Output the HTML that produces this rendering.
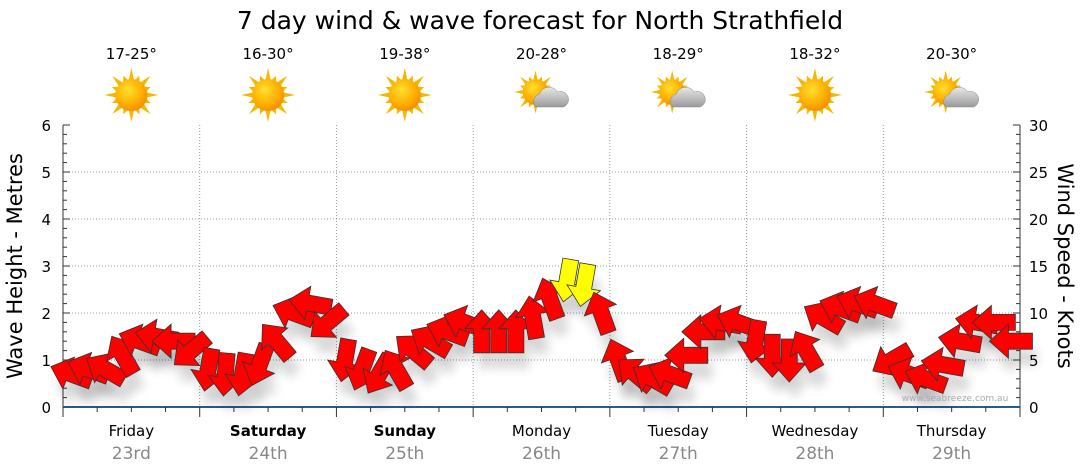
<!DOCTYPE html>
<html><head><meta charset="utf-8"><style>
body{margin:0;background:#fff;font-family:"DejaVu Sans","Liberation Sans",sans-serif}
svg{display:block}
</style></head><body>
<svg id="c" width="1080" height="475" xmlns="http://www.w3.org/2000/svg">
<defs>
<radialGradient id="sg" cx="0.4" cy="0.35" r="0.7"><stop offset="0" stop-color="#ffe030"/><stop offset="0.6" stop-color="#ffb000"/><stop offset="1" stop-color="#f08a00"/></radialGradient>
<linearGradient id="cg" x1="0" y1="0" x2="0" y2="1"><stop offset="0" stop-color="#e8e8e8"/><stop offset="1" stop-color="#9a9a9a"/></linearGradient>
<filter id="sh" x="-50%" y="-50%" width="200%" height="200%"><feGaussianBlur stdDeviation="5"/></filter>
</defs>
<text x="540" y="29" text-anchor="middle" font-size="25" fill="#000">7 day wind &amp; wave forecast for North Strathfield</text>
<g id="grid"></g>
<g id="hdr"></g>
<g id="axes"></g>
<g id="arrows"></g>
<text x="955" y="401" text-anchor="middle" font-size="9" fill="#aaa">www.seabreeze.com.au</text>
<text transform="translate(22,266) rotate(-90)" text-anchor="middle" font-size="21">Wave Height - Metres</text>
<text transform="translate(1058,266) rotate(90)" text-anchor="middle" font-size="21">Wind Speed - Knots</text>
</svg>
<script>
const days=["Friday","Saturday","Sunday","Monday","Tuesday","Wednesday","Thursday"];
const dates=["23rd","24th","25th","26th","27th","28th","29th"];
const temps=["17-25°","16-30°","19-38°","20-28°","18-29°","18-32°","20-30°"];
const cloudy=[0,0,0,1,1,0,1];
const boldDays=[0,1,1,0,0,0,0];
const waveTicks=[0,1,2,3,4,5,6];
const windTicks=[0,5,10,15,20,25,30];
const windSpeed=[3.5,4,4,5.5,7,7.5,7,6, 4,3.5,3.5,4.5,7,10,11,9, 5,4,3.5,4,6,7,8,9, 8,8,8,9.5,11.5,13.5,13,10, 5,3.5,3,3.5,5.5,8,9,9, 7,5.5,5,6,9.5,10.5,11,11, 5,3.5,3,4.5,7,9,9,7];
const windDir=[200,200,210,240,200,190,180,140, 100,95,100,110,230,200,190,140, 100,110,120,240,220,210,200,200, 270,270,270,260,250,100,100,250, 250,220,210,200,180,180,190,200, 100,90,90,240,210,200,200,200, 150,200,200,190,190,190,180,180];
const X0=63,X1=1020,Y0=407,Y1=125;
const dayW=(X1-X0)/7;
const xHour=h=>X0+h/168*(X1-X0);
const yWave=m=>Y0-m/6*(Y0-Y1);
const yWind=k=>Y0-k/30*(Y0-Y1);
const NS="http://www.w3.org/2000/svg";
function mk(p,t,a){const e=document.createElementNS(NS,t);for(const k in a)e.setAttribute(k,a[k]);p.appendChild(e);return e;}
const G=document.getElementById('grid'),H=document.getElementById('hdr'),A=document.getElementById('axes'),R=document.getElementById('arrows');
waveTicks.forEach(m=>{if(m>0&&m<6){const l=mk(G,'line',{x1:X0,x2:X1,y1:yWave(m),y2:yWave(m),stroke:'#999','stroke-dasharray':'1,2'});

}
const t=mk(A,'text',{x:X0-12,y:yWave(m)+6,'text-anchor':'end','font-size':15});t.textContent=m;

});
windTicks.forEach(k=>{const t=mk(A,'text',{x:X1+9,y:yWind(k)+6,'font-size':15});t.textContent=k;

});
for(let i=0;i<=30;i++){const y=Y1+i*(Y0-Y1)/30;const w=i%5==0?7:4;
mk(A,'line',{x1:X0,x2:X0+w,y1:y,y2:y,stroke:'#333'});mk(A,'line',{x1:X1-w,x2:X1,y1:y,y2:y,stroke:'#333'});}
mk(A,'line',{x1:X0,x2:X0,y1:Y1,y2:Y0,stroke:'#333'});
mk(A,'line',{x1:X1,x2:X1,y1:Y1,y2:Y0,stroke:'#333'});
const bl=mk(A,'line',{x1:X0,x2:X1,y1:Y0,y2:Y0,stroke:'#2a5a8a','stroke-width':2});


for(let h=0;h<=168;h+=6){mk(A,'line',{x1:xHour(h),x2:xHour(h),y1:Y0,y2:Y0+(h%24==0?10:5),stroke:'#333'});}
days.forEach((d,i)=>{const cx=X0+dayW*(i+0.5);
if(i>0){const l=mk(G,'line',{x1:X0+dayW*i,x2:X0+dayW*i,y1:Y1,y2:Y0,stroke:'#999','stroke-dasharray':'1,2'});

}
const t=mk(A,'text',{x:cx,y:436,'text-anchor':'middle','font-size':15,'font-weight':boldDays[i]?'bold':'normal'});t.textContent=d;


const t2=mk(A,'text',{x:cx,y:459,'text-anchor':'middle','font-size':17,fill:'#888'});t2.textContent=dates[i];


const t3=mk(H,'text',{x:cx,y:59,'text-anchor':'middle','font-size':15});t3.textContent=temps[i];


const g=mk(H,'g',{transform:`translate(${cx},95)`});


const sx=cloudy[i]?-6:0,sy=cloudy[i]?-3:0,sc=cloudy[i]?0.8:1;
const sg=mk(g,'g',{transform:`translate(${sx},${sy}) scale(${sc})`});
for(let r=0;r<16;r++){const a=r*Math.PI/8,L=r%2==0?27:21;
mk(sg,'polygon',{points:`${Math.cos(a)*L},${Math.sin(a)*L} ${Math.cos(a+0.18)*15},${Math.sin(a+0.18)*15} ${Math.cos(a-0.18)*15},${Math.sin(a-0.18)*15}`,fill:'#f5b800'});}
mk(sg,'circle',{cx:0,cy:0,r:16,fill:'url(#sg)'});
if(cloudy[i]){mk(g,'path',{d:'M-6,12 a8,8 0 0 1 4,-13 a10,10 0 0 1 18,-2 a8,8 0 0 1 6,15 z',fill:'url(#cg)',stroke:'#888','stroke-width':0.5});}
});
function arrowPath(){return 'M22,0 L3,-17 L3,-8 L-21,-8 L-21,8 L3,8 L3,17 Z';}
windSpeed.forEach((k,i)=>{const x=xHour(i*3+1.5),y=yWind(k);
mk(R,'path',{d:arrowPath(),transform:`translate(${x+5},${y+16}) rotate(${windDir[i]})`,fill:'#000',opacity:0.15,filter:'url(#sh)'});});
windSpeed.forEach((k,i)=>{const x=xHour(i*3+1.5),y=yWind(k);
const p=mk(R,'path',{d:arrowPath(),transform:`translate(${x},${y}) rotate(${windDir[i]})`,fill:k>=12.5?'#ffff00':'#ff0000',stroke:'#333','stroke-width':0.8});

});
</script>
</body></html>
